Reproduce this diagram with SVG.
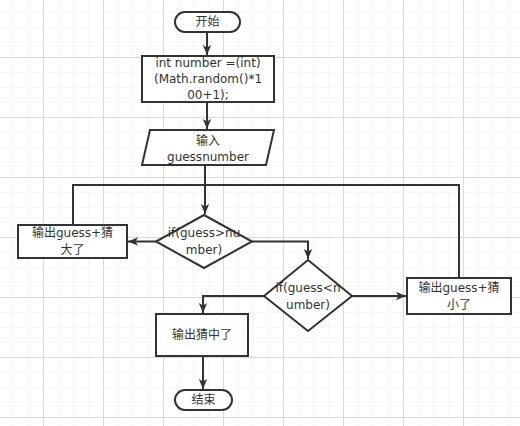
<svg xmlns="http://www.w3.org/2000/svg" width="520" height="426" viewBox="0 0 520 426">
<defs>
<pattern id="minor" width="15" height="15" patternUnits="userSpaceOnUse" x="13" y="12">
<path d="M0,0 H15 M0,0 V15" fill="none" stroke="#efefef" stroke-width="1"/>
</pattern>
<pattern id="major" width="60" height="60" patternUnits="userSpaceOnUse" x="43" y="57">
<path d="M0,0.5 H60 M0.5,0 V60" fill="none" stroke="#d9d9d9" stroke-width="1"/>
</pattern>
<marker id="arr" viewBox="0 0 10 10" markerWidth="10" markerHeight="10" refX="10" refY="5" orient="auto" markerUnits="userSpaceOnUse">
<path d="M0,0.8 L10,5 L0,9.2 L2.5,5 Z" fill="#333"/>
</marker>
<style>
.s{fill:#fff;stroke:#333;stroke-width:2}
.c{fill:none;stroke:#333;stroke-width:2}
.t{font-family:"DejaVu Sans","Noto Sans CJK SC",sans-serif;font-size:12px;fill:#333;text-anchor:middle;dominant-baseline:central}
</style>
</defs>
<rect width="520" height="426" fill="#fff"/>
<rect width="520" height="426" fill="url(#minor)"/>
<rect width="520" height="426" fill="url(#major)"/>

<g id="connectors">
<path class="c" d="M207,32 V55" marker-end="url(#arr)"/>
<path class="c" d="M207,102 V129" marker-end="url(#arr)"/>
<path class="c" d="M205,165 V214" marker-end="url(#arr)"/>
<path class="c" d="M73,225 V185 H459 V278"/>
<path class="c" d="M156,241.5 H128" marker-end="url(#arr)"/>
<path class="c" d="M252,241.5 H308 V259" marker-end="url(#arr)"/>
<path class="c" d="M352,296 H406" marker-end="url(#arr)"/>
<path class="c" d="M264,296 H203 V313" marker-end="url(#arr)"/>
<path class="c" d="M203,356 V389" marker-end="url(#arr)"/>
</g>

<g id="start">
<rect class="s" x="175" y="12" width="65" height="20" rx="10"/>
<text class="t" x="207.5" y="22">开始</text>
</g>

<g id="init">
<rect class="s" x="142" y="56" width="132" height="46"/>
<text class="t"><tspan x="208" y="63">int number =(int)</tspan><tspan x="208" y="79">(Math.random()*1</tspan><tspan x="208" y="95">00+1);</tspan></text>
</g>

<g id="input">
<polygon class="s" points="150,130 274,130 266,165 142,165"/>
<text class="t"><tspan x="208" y="141">输入</tspan><tspan x="208" y="157">guessnumber</tspan></text>
</g>

<g id="cond1">
<polygon class="s" points="204,215 252,241.5 204,268 156,241.5"/>
<text class="t"><tspan x="204" y="233">if(guess&gt;nu</tspan><tspan x="204" y="250">mber)</tspan></text>
</g>

<g id="big">
<rect class="s" x="18" y="225" width="109" height="33"/>
<text class="t"><tspan x="72.5" y="233">输出guess+猜</tspan><tspan x="72.5" y="250">大了</tspan></text>
</g>

<g id="cond2">
<polygon class="s" points="308,260 352,296 308,331 264,296"/>
<text class="t"><tspan x="308" y="288">if(guess&lt;n</tspan><tspan x="308" y="305">umber)</tspan></text>
</g>

<g id="small">
<rect class="s" x="407" y="278" width="104" height="36"/>
<text class="t"><tspan x="459" y="288">输出guess+猜</tspan><tspan x="459" y="305">小了</tspan></text>
</g>

<g id="correct">
<rect class="s" x="156" y="314" width="92" height="42"/>
<text class="t" x="202" y="335">输出猜中了</text>
</g>

<g id="end">
<rect class="s" x="175" y="390" width="57" height="20" rx="10"/>
<text class="t" x="203.5" y="400">结束</text>
</g>
</svg>
